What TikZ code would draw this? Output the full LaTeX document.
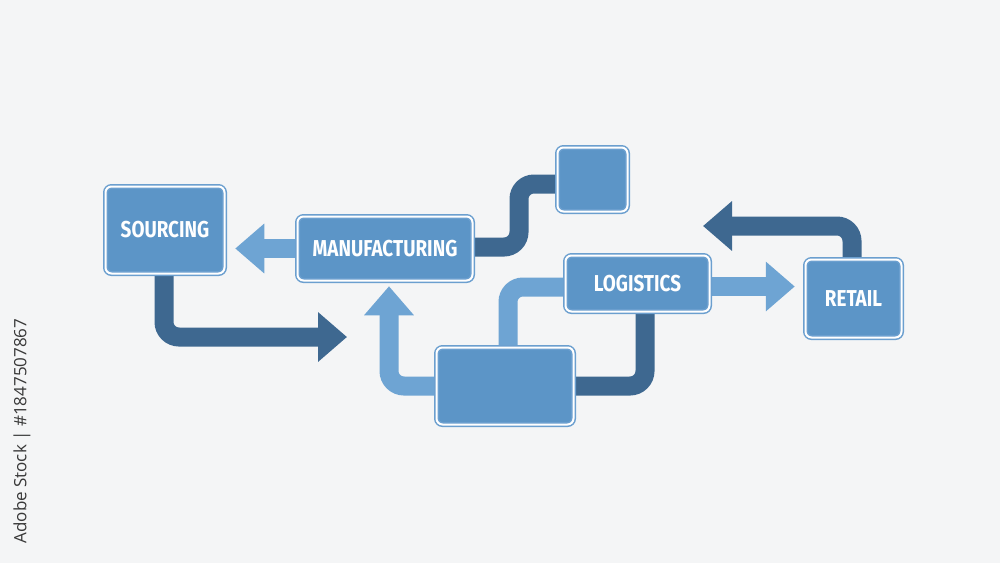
\documentclass[tikz,border=0pt]{standalone}
\usepackage{fontspec}
\usetikzlibrary{arrows.meta,backgrounds,calc}
\newfontfamily\boxfont{Fira Sans}[FakeStretch=0.82]
\newfontfamily\wmfont{Open Sans}
\definecolor{bgcol}{HTML}{F4F5F6}
\definecolor{boxfill}{HTML}{5C95C7}
\definecolor{boxline}{HTML}{6B9FCF}
\definecolor{lightarr}{HTML}{6EA4D3}
\definecolor{darkarr}{HTML}{3E6890}
\tikzset{
  flowbox/.style={draw=boxline, line width=1.5pt, double=white, double distance=2pt,
    fill=boxfill, rounded corners=6pt, inner sep=0pt,
    text=white, font=\boxfont\bfseries\fontsize{23}{25}\selectfont},
  lightconn/.style={draw=lightarr, line width=19pt, rounded corners=15pt},
  darkconn/.style={draw=darkarr, line width=19pt, rounded corners=15pt},
  headtip/.style={-{Triangle[width=48pt,length=29pt]}},
}
\begin{document}
\begin{tikzpicture}[x=1pt,y=-1pt]
\useasboundingbox (0,0) rectangle (1000,563);
% boxes (size = outer size - 5pt)
\node[flowbox, minimum width=119pt, minimum height=87pt] (src) at (165,230) {SOURCING};
\node[flowbox, minimum width=175pt, minimum height=64pt] (man) at (385,248.5) {MANUFACTURING};
\node[flowbox, minimum width=70pt, minimum height=64pt] (top) at (592.5,179.5) {};
\node[flowbox, minimum width=144pt, minimum height=56pt] (log) at (637.5,283.5) {LOGISTICS};
\node[flowbox, minimum width=96pt, minimum height=78pt] (ret) at (853.5,298.5) {RETAIL};
\node[flowbox, minimum width=137pt, minimum height=77pt] (emp) at (505,386) {};
\coordinate (bTip) at (347,337);
\coordinate (hTip) at (703,226);
\coordinate (fx) at (519,200);
\begin{scope}[on background layer]
  \fill[bgcol] (0,0) rectangle (1000,563);
  % manufacturing -> sourcing
  \draw[lightconn, headtip, shorten >=10pt] (man.west) -- (src.east |- man.west);
  % sourcing -> down -> right
  \draw[darkconn, headtip] ([xshift=-1pt]src.south) |- (bTip);
  % empty box -> up to manufacturing
  \draw[lightconn, headtip, shorten >=5pt] (emp.west) -| ([xshift=4pt]man.south);
  % empty box top -> logistics
  \draw[lightconn] ([xshift=3pt]emp.north) |- ([yshift=-3.5pt]log.west);
  % logistics bottom -> empty box
  \draw[darkconn] ([xshift=7.5pt]log.south) |- (emp.east);
  % manufacturing -> top box
  \draw[darkconn] ([yshift=1.5pt]man.east) -- ([yshift=1.5pt]man.east -| fx) |- ([yshift=-4.5pt]top.west);
  % logistics -> retail
  \draw[lightconn, headtip, shorten >=10pt] ([yshift=-3pt]log.east) -- ([yshift=-3pt]log.east -| ret.west);
  % retail -> back left
  \draw[darkconn, headtip] ([xshift=-1.5pt]ret.north) |- (hTip);
\end{scope}
\node[rotate=90, text=black!78, font=\wmfont\fontsize{17}{19}\selectfont, inner sep=0pt] (wm) at (22,431) {Adobe Stock | \#1847507867};
\end{tikzpicture}
\end{document}
